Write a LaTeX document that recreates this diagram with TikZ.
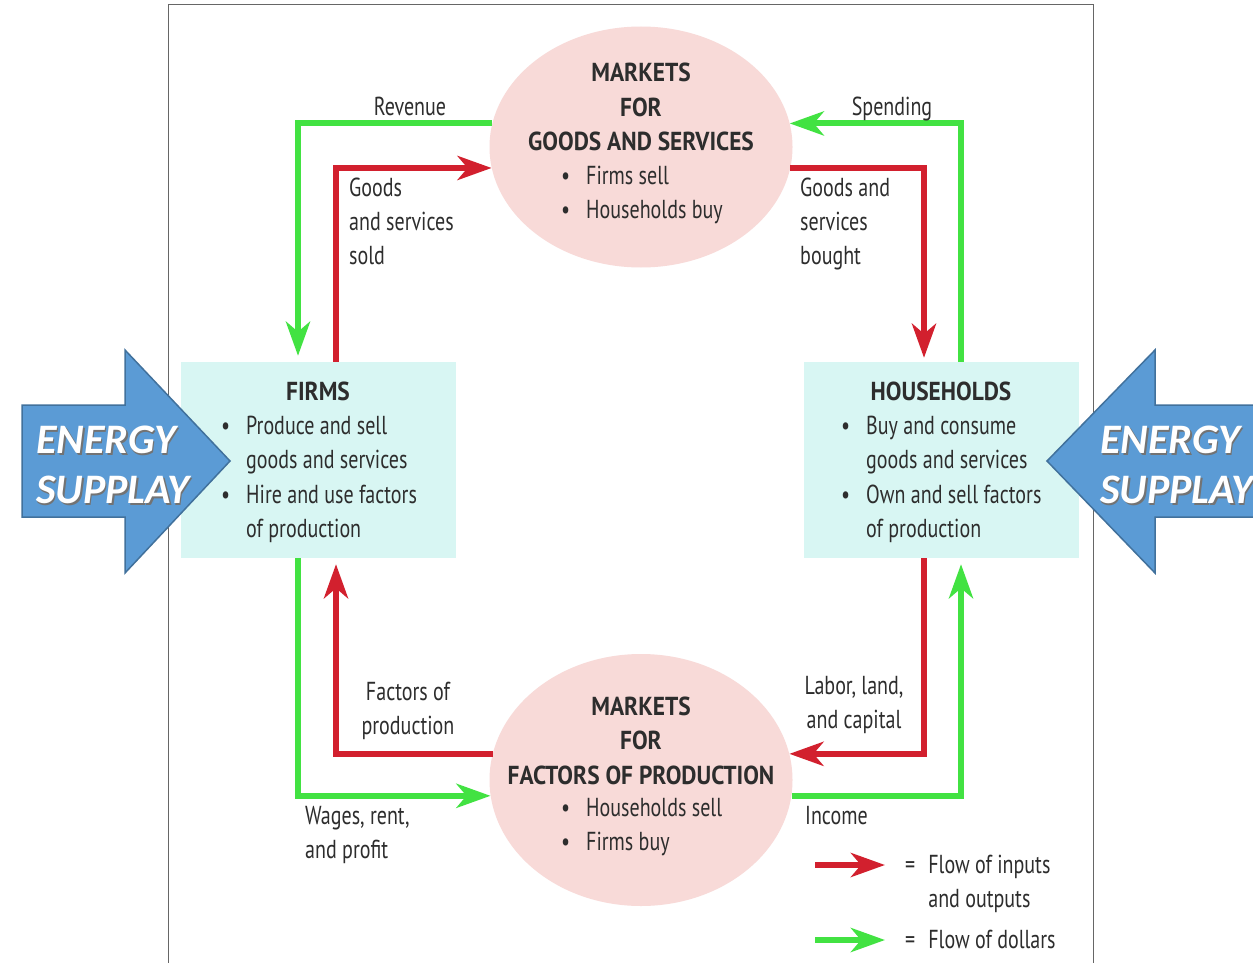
\documentclass[tikz,border=0pt]{standalone}
\usepackage{fontspec}
\setmainfont{PT Sans}[FakeStretch=0.77,BoldFeatures={FakeStretch=0.9}]
\newfontfamily\enfont{Carlito}
\usetikzlibrary{arrows.meta,shapes.geometric,calc}
\definecolor{redc}{RGB}{210,32,46}
\definecolor{grnc}{RGB}{66,226,66}
\definecolor{pinkc}{RGB}{248,218,216}
\definecolor{cyanc}{RGB}{216,246,243}
\definecolor{bluec}{RGB}{91,155,213}
\definecolor{blueedge}{RGB}{65,113,156}
\definecolor{txtc}{RGB}{45,45,45}
\tikzset{
  redflow/.style={draw=redc, line width=6pt, -{Stealth[length=34pt,width=24pt,inset=10pt]}},
  grnflow/.style={draw=grnc, line width=6pt, -{Stealth[length=34pt,width=24pt,inset=10pt]}},
  mkt/.style={ellipse, fill=pinkc, inner sep=0pt, minimum width=303pt},
  agent/.style={rectangle, fill=cyanc, inner sep=0pt, minimum width=275pt, minimum height=196pt},
  txt/.style={inner sep=0pt, text=txtc, font=\fontsize{26}{34.5}\selectfont},
  ttl/.style={inner sep=0pt, text=txtc, font=\fontsize{26}{34.5}\selectfont\bfseries},
  energy/.style={inner sep=0pt, align=left, anchor=west, text=white, font=\enfont\fontsize{42}{50}\selectfont\bfseries\itshape},
  eshadow/.style={energy, text=black!55},
  earrow/.style={fill=bluec, draw=blueedge, line width=1.5pt, line join=miter}
}
\newcommand{\bl}{\makebox[25pt][l]{\textbullet}}
\begin{document}
\begin{tikzpicture}[x=1pt,y=-1pt]
\useasboundingbox (0,0) rectangle (1253,963);
\fill[white] (0,0) rectangle (1253,963);
% frame
\draw[black!60, line width=1pt] (168,980) -- (168,5) -- (1093,5) -- (1093,980);
% nodes
\node[mkt, minimum height=241pt] (gmkt) at (641,147) {};
\node[mkt, minimum height=252pt] (fmkt) at (641,780) {};
\node[agent] (firms) at (318.5,460) {};
\node[agent] (hh) at (941,460) {};
% ellipse texts
\node[ttl, anchor=base] (gmktt) at (641,82) {\begin{tabular}[t]{@{}c@{}}MARKETS\\FOR\\GOODS AND SERVICES\end{tabular}};
\node[txt, anchor=base west] (gmktb) at (561,184) {\begin{tabular}[t]{@{}l@{}}\bl Firms sell\\ \bl Households buy\end{tabular}};
\node[ttl, anchor=base] (fmktt) at (641,715) {\begin{tabular}[t]{@{}c@{}}MARKETS\\FOR\\FACTORS OF PRODUCTION\end{tabular}};
\node[txt, anchor=base west] (fmktb) at (561,816) {\begin{tabular}[t]{@{}l@{}}\bl Households sell\\ \bl Firms buy\end{tabular}};
% agent texts
\node[ttl, anchor=base] (firmst) at (318,400) {FIRMS};
\node[txt, anchor=base west] (firmsb) at (221,434) {\begin{tabular}[t]{@{}l@{}l@{}}\bl & Produce and sell\\ & goods and services\\ \bl & Hire and use factors\\ & of production\end{tabular}};
\node[ttl, anchor=base] (hht) at (941,400) {HOUSEHOLDS};
\node[txt, anchor=base west] (hhb) at (841,434) {\begin{tabular}[t]{@{}l@{}l@{}}\bl & Buy and consume\\ & goods and services\\ \bl & Own and sell factors\\ & of production\end{tabular}};
% flows
\draw[grnflow] (gmkt.171) -| ($(firms.north)+(-20.5,-6)$);
\draw[redflow] ($(firms.north)+(17.5,0)$) |- (gmkt.188);
\draw[grnflow] ($(hh.north)+(20,0)$) |- (gmkt.9);
\draw[redflow] (gmkt.-8) -| ($(hh.north)+(-17,-4)$);
\draw[grnflow] ($(firms.south)+(-20.5,0)$) |- (fmkt.186);
\draw[redflow] (fmkt.170) -| ($(firms.south)+(17.5,6)$);
\draw[redflow] ($(hh.south)+(-17,0)$) |- (fmkt.10);
\draw[grnflow] (fmkt.-6) -| ($(hh.south)+(20,6)$);
% flow labels
\node[txt, anchor=base] (rev) at (410,116) {Revenue};
\node[txt, anchor=base] (spd) at (892,116) {Spending};
\node[txt, anchor=base west] (gss) at (349,196) {\begin{tabular}[t]{@{}l@{}}Goods\\and services\\sold\end{tabular}};
\node[txt, anchor=base west] (gsb) at (800,196) {\begin{tabular}[t]{@{}l@{}}Goods and\\services\\bought\end{tabular}};
\node[txt, anchor=base] (fop) at (408,700) {\begin{tabular}[t]{@{}c@{}}Factors of\\production\end{tabular}};
\node[txt, anchor=base] (llc) at (854,694) {\begin{tabular}[t]{@{}c@{}}Labor, land,\\and capital\end{tabular}};
\node[txt, anchor=base west] (wrp) at (305,824) {\begin{tabular}[t]{@{}l@{}}Wages, rent,\\and profit\end{tabular}};
\node[txt, anchor=base west] (inc) at (805,824) {Income};
% legend
\coordinate (lr1) at (815,865);
\coordinate (lr2) at (885,865);
\coordinate (lg1) at (815,940);
\coordinate (lg2) at (885,940);
\draw[redflow] (lr1) -- (lr2);
\draw[grnflow] (lg1) -- (lg2);
\node[txt, anchor=base west] (leg1) at (905,873) {\begin{tabular}[t]{@{}l@{\hspace{13pt}}l@{}}=&Flow of inputs\\ &and outputs\end{tabular}};
\node[txt, anchor=base west] (leg2) at (905,948) {\begin{tabular}[t]{@{}l@{\hspace{13pt}}l@{}}=&Flow of dollars\end{tabular}};
% energy arrows
\path[earrow] (22,405) -- (125,405) -- (125,350) -- (230,461) -- (125,573) -- (125,517) -- (22,517) -- cycle;
\path[earrow] (1265,405) -- (1155,405) -- (1155,350) -- (1047,461) -- (1155,573) -- (1155,517) -- (1265,517) -- cycle;
\node[eshadow] (els) at (37.5,466.5) {ENERGY\\SUPPLAY};
\node[energy] (el) at (36,465) {ENERGY\\SUPPLAY};
\node[eshadow] (ers) at (1101.5,466.5) {ENERGY\\SUPPLAY};
\node[energy] (er) at (1100,465) {ENERGY\\SUPPLAY};
\end{tikzpicture}
\end{document}
